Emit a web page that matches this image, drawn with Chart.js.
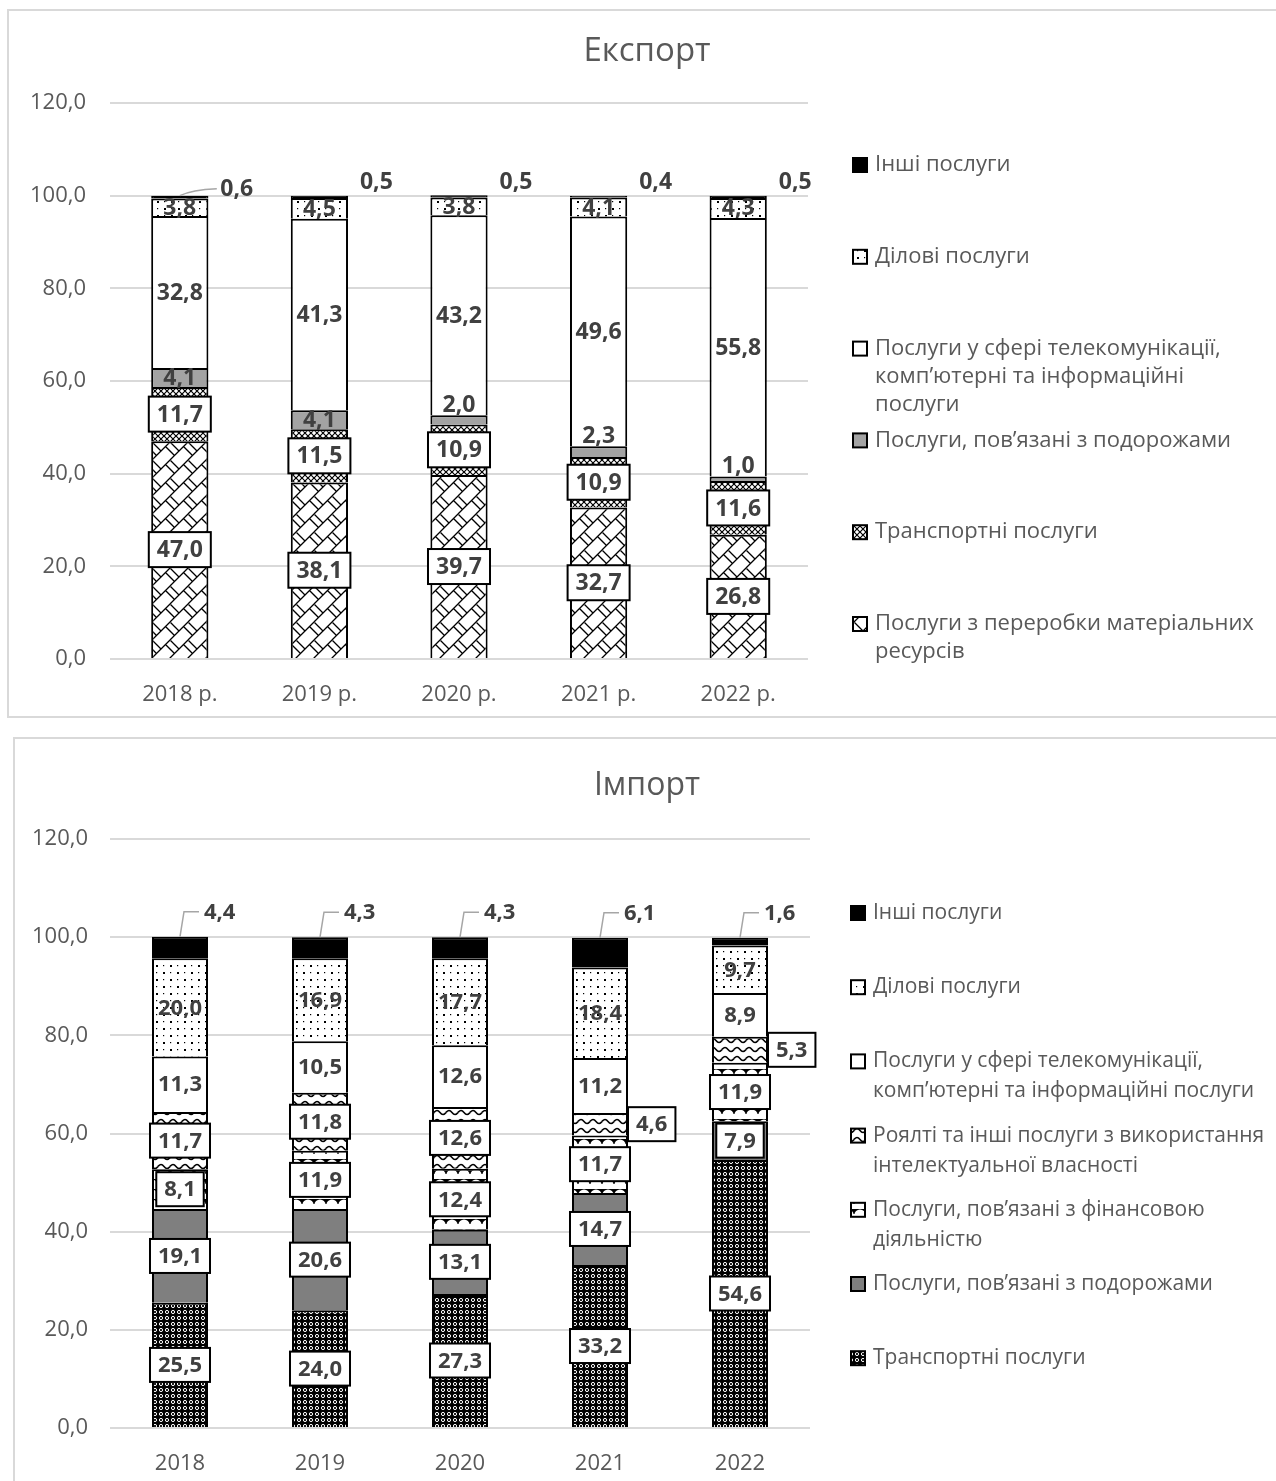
<!DOCTYPE html>
<html lang="uk">
<head>
<meta charset="utf-8">
<title>Експорт та імпорт послуг</title>
<script src="https://cdn.jsdelivr.net/npm/chart.js@4.4.1/dist/chart.umd.min.js"></script>
<style>
  html, body { margin: 0; padding: 0; background: #fff; }
  body { position: relative; width: 1276px; height: 1481px; overflow: hidden; }
  .frame { position: absolute; border: 2px solid #d9d9d9; box-sizing: border-box; }
  #exportFrame { left: 7px; top: 9px; width: 1300px; height: 709px; }
  #importFrame { left: 13px; top: 737px; width: 1300px; height: 800px; }
  canvas { position: absolute; }
  #exportChart { left: 8px; top: 10px; }
  #importChart { left: 14px; top: 739px; }
</style>
</head>
<body>
<div class="frame" id="exportFrame"></div>
<div class="frame" id="importFrame"></div>
<canvas id="exportChart" width="1268" height="707"></canvas>
<canvas id="importChart" width="1262" height="742"></canvas>

<script>
// ---- Data -------------------------------------------------------------
const years = ['2018', '2019', '2020', '2021', '2022'];
const exportYearLabels = ['2018 р.', '2019 р.', '2020 р.', '2021 р.', '2022 р.'];
const yTickValues = [0, 20, 40, 60, 80, 100, 120];

// Експорт, % (from the bottom of each column upwards)
const expProcessing = [47.0, 38.1, 39.7, 32.7, 26.8];
const expTransport  = [11.7, 11.5, 10.9, 10.9, 11.6];
const expTravel     = [4.1, 4.1, 2.0, 2.3, 1.0];
const expTelecom    = [32.8, 41.3, 43.2, 49.6, 55.8];
const expBusiness   = [3.8, 4.5, 3.8, 4.1, 4.3];
const expOther      = [0.6, 0.5, 0.5, 0.4, 0.5];

// Імпорт, %
const impTransport  = [25.5, 24.0, 27.3, 33.2, 54.6];
const impTravel     = [19.1, 20.6, 13.1, 14.7, 7.9];
const impFinancial  = [8.1, 11.9, 12.4, 11.7, 11.9];
const impRoyalty    = [11.7, 11.8, 12.6, 4.6, 5.3];
const impTelecom    = [11.3, 10.5, 12.6, 11.2, 8.9];
const impBusiness   = [20.0, 16.9, 17.7, 18.4, 9.7];
const impOther      = [4.4, 4.3, 4.3, 6.1, 1.6];

// Series names (legend lines)
const nameOther     = ['Інші послуги'];
const nameBusiness  = ['Ділові послуги'];
const nameTelecomExp = ['Послуги у сфері телекомунікації,', 'комп’ютерні та інформаційні', 'послуги'];
const nameTelecomImp = ['Послуги у сфері телекомунікації,', 'комп’ютерні та інформаційні послуги'];
const nameRoyalty   = ['Роялті та інші послуги з використання', 'інтелектуальної власності'];
const nameFinancial = ['Послуги, пов’язані з фінансовою', 'діяльністю'];
const nameTravel    = ['Послуги, пов’язані з подорожами'];
const nameTransport = ['Транспортні послуги'];
const nameProcessing = ['Послуги з переробки матеріальних', 'ресурсів'];

// ---- Styling helpers --------------------------------------------------
const TEXT_GRAY = '#595959';
const LABEL_GRAY = '#404040';
const FONT = '"Open Sans", "Noto Sans", sans-serif';
Chart.defaults.font.family = FONT;

const fmt = v => v.toFixed(1).replace('.', ',');

// Build a repeating fill from a small tile; the tile is painted with
// wrap-around copies so strokes continue across tile edges.
function tile(w, h, paint, bg = '#fff') {
  const c = document.createElement('canvas');
  c.width = w; c.height = h;
  const g = c.getContext('2d');
  g.fillStyle = bg;
  g.fillRect(0, 0, w, h);
  for (const dx of [-w, 0, w]) {
    for (const dy of [-h, 0, h]) {
      g.save(); g.translate(dx, dy); paint(g); g.restore();
    }
  }
  return g.createPattern(c, 'repeat');
}

const fills = {
  black: '#000',
  white: '#fff',
  grayLight: '#a3a3a3',
  grayDark: '#7f7f7f',
  // diagonal brick
  brick: tile(18, 18, g => {
    g.strokeStyle = '#000'; g.lineWidth = 1.3;
    g.beginPath();
    g.moveTo(0, 18); g.lineTo(18, 0);
    g.moveTo(0.5, 0.5); g.lineTo(9, 9);
    g.moveTo(13.5, 4.5); g.lineTo(22.5, 13.5);
    g.stroke();
  }),
  // small weave
  weave: tile(6, 6, g => {
    g.strokeStyle = '#000'; g.lineWidth = 1.2;
    g.beginPath();
    g.moveTo(0, 0); g.lineTo(6, 6);
    g.moveTo(6, 0); g.lineTo(0, 6);
    g.stroke();
  }),
  // white rings on black
  spheres: tile(6, 6, g => {
    g.strokeStyle = '#fff'; g.lineWidth = 1;
    g.beginPath(); g.arc(3, 3, 1.6, 0, Math.PI * 2); g.stroke();
  }, '#000'),
  dots: tile(14, 14, g => {
    g.fillStyle = '#000';
    g.fillRect(2, 2, 2, 2);
    g.fillRect(9, 9, 2, 2);
    g.fillRect(9, 2, 1.2, 1.2);
    g.fillRect(2, 9, 1.2, 1.2);
  }),
  wave: tile(12, 9, g => {
    g.strokeStyle = '#000'; g.lineWidth = 1.5;
    g.beginPath();
    g.moveTo(0, 4.5);
    g.quadraticCurveTo(3, 0.5, 6, 4.5);
    g.quadraticCurveTo(9, 8.5, 12, 4.5);
    g.stroke();
  }),
  scallop: tile(12, 10, g => {
    g.fillStyle = '#000';
    g.fillRect(0, 0, 12, 5);
    g.fillStyle = '#fff';
    g.beginPath(); g.arc(6, 6, 5.6, 0, Math.PI * 2); g.fill();
  })
};

// ---- Overlay plugin: value labels, title and side legend ---------------
function overlayPlugin(spec) {
  return {
    id: 'overlay_' + spec.key,
    afterDatasetsDraw(chart) {
      const ctx = chart.ctx;
      const fs = spec.labelSize;
      ctx.save();
      ctx.font = `bold ${fs}px ${FONT}`;
      ctx.textBaseline = 'middle';
      chart.data.datasets.forEach((ds, di) => {
        const meta = chart.getDatasetMeta(di);
        meta.data.forEach((bar, i) => {
          const p = bar.getProps(['x', 'y', 'base', 'width'], true);
          const top = Math.min(p.y, p.base), bottom = Math.max(p.y, p.base);
          const h = bottom - top;
          const cx = p.x, cy = (top + bottom) / 2;
          const text = fmt(ds.data[i]);
          const tw = ctx.measureText(text).width;
          const mode = ds.labelMode;

          if (mode === 'box') {
            const bw = tw + 16, bh = fs + 12;
            let bx = cx - bw / 2;
            if (ds.sideIfBelow && ds.data[i] < ds.sideIfBelow) bx = cx + p.width / 2;
            ctx.fillStyle = '#fff';
            ctx.fillRect(bx, cy - bh / 2, bw, bh);
            ctx.lineWidth = 2; ctx.strokeStyle = '#000';
            ctx.strokeRect(bx, cy - bh / 2, bw, bh);
            ctx.fillStyle = LABEL_GRAY; ctx.textAlign = 'center';
            ctx.fillText(text, bx + bw / 2, cy + 1);
          } else if (mode === 'plain') {
            const y = (ds.liftIfUnder && h < ds.liftIfUnder) ? top - 10 : cy + 1;
            ctx.fillStyle = LABEL_GRAY; ctx.textAlign = 'center';
            ctx.fillText(text, cx, y);
          } else if (mode === 'above') {
            const withLeader = ds.leaderAt && ds.leaderAt.includes(i);
            const lx = cx + 57, ly = withLeader ? top - 6 : top - 13;
            if (withLeader) {
              ctx.strokeStyle = '#a6a6a6'; ctx.lineWidth = 1.5;
              ctx.beginPath();
              ctx.moveTo(cx, top);
              ctx.quadraticCurveTo(cx + 12, top - 6, cx + 37, top - 7);
              ctx.stroke();
            }
            ctx.fillStyle = LABEL_GRAY; ctx.textAlign = 'center';
            ctx.fillText(text, lx, ly);
          } else if (mode === 'callout') {
            const ly = top - 25;
            ctx.strokeStyle = '#a6a6a6'; ctx.lineWidth = 1.5;
            ctx.beginPath();
            ctx.moveTo(cx, top);
            ctx.lineTo(cx + 4, ly);
            ctx.lineTo(cx + 19, ly);
            ctx.stroke();
            ctx.fillStyle = LABEL_GRAY; ctx.textAlign = 'left';
            ctx.fillText(text, cx + 24, ly + 1);
          }
        });
      });
      ctx.restore();
    },
    afterDraw(chart) {
      const ctx = chart.ctx;
      ctx.save();
      // title
      ctx.font = `${spec.titleSize}px ${FONT}`;
      ctx.fillStyle = TEXT_GRAY;
      ctx.textAlign = 'center';
      ctx.textBaseline = 'middle';
      ctx.fillText(spec.title, spec.titleX, spec.titleY);

      // legend (top entry = last stacked series)
      const items = chart.data.datasets.slice().reverse();
      ctx.font = `${spec.legendSize}px ${FONT}`;
      ctx.textAlign = 'left';
      items.forEach((ds, k) => {
        const y0 = spec.legendTop + k * spec.legendStep;
        const s = 14;
        ctx.fillStyle = ds.backgroundColor;
        ctx.fillRect(spec.swatchX, y0 - s / 2, s, s);
        ctx.lineWidth = 2; ctx.strokeStyle = '#000';
        ctx.strokeRect(spec.swatchX, y0 - s / 2, s, s);
        ctx.fillStyle = TEXT_GRAY;
        ds.nameLines.forEach((line, li) => {
          ctx.fillText(line, spec.textX, y0 + li * spec.lineHeight);
        });
      });
      ctx.restore();
    }
  };
}

function series(nameLines, data, fill, extra = {}) {
  return Object.assign({
    label: nameLines.join(' '),
    nameLines,
    data,
    backgroundColor: fill,
    borderColor: '#000',
    borderWidth: 2,
    borderSkipped: 'start'
  }, extra);
}

function buildChart(canvasId, cats, datasets, geom, spec) {
  return new Chart(document.getElementById(canvasId), {
    type: 'bar',
    data: { labels: cats, datasets },
    options: {
      responsive: false,
      animation: false,
      events: [],
      layout: { padding: { left: 0, right: geom.padRight, top: geom.padTop, bottom: 0 } },
      datasets: { bar: { barPercentage: 1, categoryPercentage: geom.catPct } },
      plugins: { legend: { display: false }, tooltip: { enabled: false }, title: { display: false } },
      scales: {
        x: {
          stacked: true,
          grid: { display: false },
          border: { display: false },
          ticks: { color: TEXT_GRAY, font: { size: 22 }, padding: geom.xPad, maxRotation: 0 },
          afterFit: s => { s.height = geom.xHeight; }
        },
        y: {
          stacked: true,
          min: 0, max: 120,
          afterBuildTicks: s => { s.ticks = yTickValues.map(v => ({ value: v })); },
          grid: { color: '#d9d9d9', lineWidth: 2, drawTicks: false },
          border: { display: false },
          ticks: { color: TEXT_GRAY, font: { size: 22 }, padding: geom.yPad, callback: v => fmt(v) },
          afterFit: s => { s.width = geom.yWidth; }
        }
      }
    },
    plugins: [overlayPlugin(spec)]
  });
}

// ---- Експорт ----------------------------------------------------------
buildChart('exportChart', exportYearLabels, [
  series(nameProcessing, expProcessing, fills.brick, { labelMode: 'box' }),
  series(nameTransport, expTransport, fills.weave, { labelMode: 'box' }),
  series(nameTravel, expTravel, fills.grayLight, { labelMode: 'plain', liftIfUnder: 16 }),
  series(nameTelecomExp, expTelecom, fills.white, { labelMode: 'plain' }),
  series(nameBusiness, expBusiness, fills.dots, { labelMode: 'plain' }),
  series(nameOther, expOther, fills.black, { labelMode: 'above', leaderAt: [0] })
], { padRight: 468, padTop: 93, catPct: 0.41, xHeight: 58, xPad: 15, yWidth: 102, yPad: 24 }, {
  key: 'exp', title: 'Експорт', titleSize: 33, titleX: 647 - 8, titleY: 42,
  labelSize: 23,
  legendSize: 22, legendTop: 155, legendStep: 91.8, lineHeight: 28,
  swatchX: 845, textX: 867
});

// ---- Імпорт -----------------------------------------------------------
buildChart('importChart', years, [
  series(nameTransport, impTransport, fills.spheres, { labelMode: 'box' }),
  series(nameTravel, impTravel, fills.grayDark, { labelMode: 'box' }),
  series(nameFinancial, impFinancial, fills.scallop, { labelMode: 'box' }),
  series(nameRoyalty, impRoyalty, fills.wave, { labelMode: 'box', sideIfBelow: 6 }),
  series(nameTelecomImp, impTelecom, fills.white, { labelMode: 'plain' }),
  series(nameBusiness, impBusiness, fills.dots, { labelMode: 'plain' }),
  series(nameOther, impOther, fills.black, { labelMode: 'callout' })
], { padRight: 466, padTop: 100, catPct: 0.40, xHeight: 53, xPad: 15, yWidth: 96, yPad: 22 }, {
  key: 'imp', title: 'Імпорт', titleSize: 32, titleX: 647 - 14, titleY: 47,
  labelSize: 22,
  legendSize: 21, legendTop: 174, legendStep: 74.2, lineHeight: 30,
  swatchX: 837, textX: 859
});
</script>
</body>
</html>
